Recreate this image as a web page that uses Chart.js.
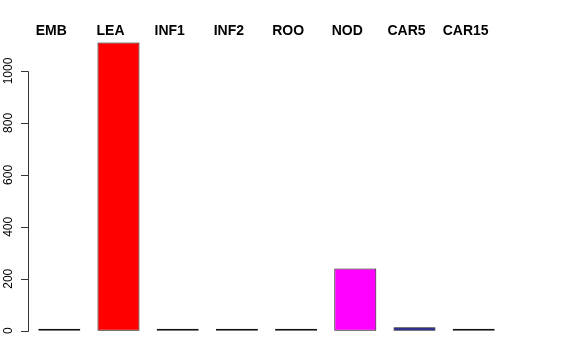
<!DOCTYPE html>
<html lang="en">
<head>
<meta charset="utf-8">
<title>barplot</title>
<script src="https://cdn.jsdelivr.net/npm/chart.js@4"></script>
<style>
  html, body { margin: 0; background: #fff; }
  canvas { display: block; }
</style>
</head>
<body>
<canvas id="c" width="576" height="360"></canvas>
<script>
// values
const tissues = ['EMB', 'LEA', 'INF1', 'INF2', 'ROO', 'NOD', 'CAR5', 'CAR15'];
const counts = [3, 1110, 3, 3, 1, 240, 13, 8];
const fills = ['#505050', '#ff0000', '#404a40', '#40404d', '#5a5a5a', '#ff00ff', '#000080', '#006400'];
const yTicks = [0, 200, 400, 600, 800, 1000];

// R style left axis: line only from first to last tick, rotated labels
const rAxis = {
  id: 'rAxis',
  afterDraw(chart) {
    const y = chart.scales.y, ctx = chart.ctx;
    const xLine = 28.5;
    const top = Math.round(y.getPixelForValue(yTicks[yTicks.length - 1])) + 0.5;
    const bot = Math.round(y.getPixelForValue(yTicks[0])) + 0.5;
    ctx.save();
    ctx.strokeStyle = '#333';
    ctx.lineWidth = 1;
    ctx.beginPath();
    ctx.moveTo(xLine, top);
    ctx.lineTo(xLine, bot);
    yTicks.forEach(v => {
      const py = Math.round(y.getPixelForValue(v)) + 0.5;
      ctx.moveTo(21, py);
      ctx.lineTo(xLine, py);
    });
    ctx.stroke();
    ctx.fillStyle = '#000';
    ctx.font = '12px "Liberation Sans", Arial, sans-serif';
    ctx.textAlign = 'center';
    ctx.textBaseline = 'middle';
    yTicks.forEach(v => {
      ctx.save();
      ctx.translate(8.5, y.getPixelForValue(v));
      ctx.rotate(-Math.PI / 2);
      ctx.fillText(String(v), 0, 0);
      ctx.restore();
    });
    ctx.restore();
  }
};

new Chart(document.getElementById('c'), {
  type: 'bar',
  data: {
    labels: tissues,
    datasets: [{
      data: counts,
      backgroundColor: fills,
      borderColor: '#111',
      borderWidth: 1,
      borderSkipped: false,
      minBarLength: 2,
      barPercentage: 0.71,
      categoryPercentage: 1
    }]
  },
  options: {
    responsive: false,
    animation: false,
    layout: { padding: { left: 29.7, right: 72.7, top: 0, bottom: 18 } },
    plugins: { legend: { display: false }, tooltip: { enabled: false } },
    scales: {
      x: {
        position: 'top',
        grid: { display: false, drawTicks: false },
        border: { display: false },
        ticks: {
          color: '#000',
          padding: 0,
          labelOffset: -8,
          maxRotation: 0,
          autoSkip: false,
          font: { family: '"Liberation Sans", Arial, sans-serif', size: 14, weight: 'bold' }
        },
        afterFit(s) { s.height = 40; }
      },
      y: { display: false, min: -43.5, max: 1119.4 }
    }
  },
  plugins: [rAxis]
});
</script>
</body>
</html>
